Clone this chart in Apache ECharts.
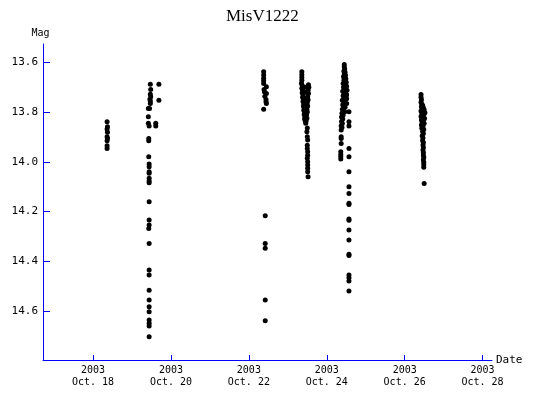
<!DOCTYPE html>
<html>
<head>
<meta charset="utf-8">
<script src="https://cdn.jsdelivr.net/npm/echarts@6/dist/echarts.min.js"></script>
<style>html,body{margin:0;padding:0;background:#fff}#c{width:540px;height:405px}</style>
</head>
<body>
<div id="c"></div>
<script>
// x = day of October 2003, y = magnitude
const night1 = [[18.36,13.839],[18.37,13.859],[18.36,13.868],[18.37,13.881],[18.36,13.899],[18.37,13.906],[18.36,13.915],[18.36,13.935],[18.36,13.946]];
const night2 = [[19.47,13.688],[19.69,13.688],[19.48,13.709],[19.47,13.728],[19.48,13.738],[19.46,13.748],[19.47,13.756],[19.47,13.765],[19.69,13.752],
  [19.42,13.785],[19.45,13.785],[19.42,13.819],[19.42,13.845],[19.44,13.856],[19.61,13.845],[19.61,13.856],[19.43,13.906],[19.43,13.915],
  [19.43,13.980],[19.44,14.009],[19.44,14.020],[19.44,14.040],[19.44,14.046],[19.44,14.066],[19.44,14.077],[19.44,14.084],[19.44,14.160],
  [19.44,14.234],[19.44,14.254],[19.43,14.268],[19.44,14.328],[19.44,14.435],[19.44,14.455],[19.44,14.516],[19.44,14.556],[19.44,14.583],
  [19.44,14.603],[19.44,14.636],[19.44,14.649],[19.44,14.660],[19.44,14.703]];
const night3 = [[22.38,13.638],[22.38,13.651],[22.38,13.664],[22.38,13.674],[22.38,13.685],[22.45,13.698],[22.39,13.709],[22.40,13.718],[22.45,13.725],
  [22.41,13.736],[22.44,13.749],[22.44,13.758],[22.45,13.765],[22.38,13.788],[22.42,14.217],[22.42,14.328],[22.42,14.348],[22.42,14.556],[22.42,14.639]];
const night4 = [[23.36,13.638],[23.36,13.650],[23.36,13.661],[23.36,13.672],[23.35,13.684],[23.37,13.693],[23.36,13.704],[23.38,13.712],[23.37,13.722],
  [23.39,13.730],[23.38,13.740],[23.40,13.748],[23.39,13.757],[23.41,13.765],[23.40,13.775],[23.42,13.783],[23.41,13.792],[23.43,13.800],
  [23.42,13.810],[23.44,13.818],[23.43,13.828],[23.45,13.836],[23.46,13.845],[23.53,13.690],[23.54,13.700],[23.52,13.712],[23.53,13.725],
  [23.51,13.738],[23.52,13.750],[23.50,13.762],[23.51,13.775],[23.49,13.788],[23.50,13.800],[23.48,13.812],[23.49,13.825],[23.47,13.836],
  [23.44,13.700],[23.45,13.720],[23.46,13.745],[23.45,13.770],[23.47,13.795],[23.46,13.820],[23.50,13.864],[23.49,13.879],[23.50,13.899],
  [23.51,13.912],[23.50,13.933],[23.50,13.946],[23.51,13.959],[23.51,13.973],[23.50,13.986],[23.51,14.000],[23.51,14.013],[23.51,14.026],
  [23.51,14.040],[23.52,14.060]];
const night5 = [[24.45,13.608],[24.45,13.618],[24.46,13.627],[24.44,13.636],[24.47,13.640],[24.45,13.648],[24.48,13.652],[24.43,13.658],[24.46,13.662],
  [24.49,13.666],[24.44,13.672],[24.47,13.676],[24.50,13.680],[24.42,13.685],[24.45,13.688],[24.48,13.692],[24.51,13.696],[24.43,13.700],
  [24.46,13.704],[24.49,13.708],[24.52,13.712],[24.41,13.716],[24.44,13.720],[24.47,13.724],[24.50,13.728],[24.42,13.734],[24.45,13.738],
  [24.48,13.742],[24.51,13.746],[24.40,13.752],[24.43,13.756],[24.46,13.760],[24.49,13.764],[24.41,13.770],[24.44,13.775],[24.47,13.780],
  [24.40,13.788],[24.43,13.793],[24.46,13.798],[24.39,13.805],[24.42,13.812],[24.38,13.820],[24.41,13.828],[24.38,13.838],[24.40,13.846],
  [24.37,13.855],[24.39,13.862],[24.37,13.872],[24.37,13.899],[24.37,13.906],[24.37,13.926],[24.36,13.959],[24.36,13.970],[24.36,13.980],
  [24.36,13.989],[24.51,13.731],[24.51,13.765],[24.57,13.799],[24.57,13.839],[24.57,13.856],[24.57,13.946],[24.57,13.980],[24.57,14.040],
  [24.57,14.100],[24.57,14.127],[24.57,14.167],[24.57,14.172],[24.57,14.230],[24.57,14.235],[24.57,14.274],[24.57,14.314],[24.57,14.372],
  [24.57,14.377],[24.57,14.455],[24.57,14.466],[24.57,14.479],[24.57,14.519]];
const night6 = [[26.42,13.729],[26.42,13.740],[26.43,13.750],[26.42,13.760],[26.44,13.768],[26.46,13.772],[26.43,13.778],[26.48,13.782],[26.45,13.787],
  [26.50,13.790],[26.42,13.795],[26.47,13.800],[26.52,13.803],[26.44,13.808],[26.49,13.812],[26.42,13.818],[26.46,13.822],[26.51,13.826],
  [26.43,13.832],[26.48,13.836],[26.45,13.842],[26.50,13.846],[26.43,13.852],[26.47,13.858],[26.44,13.865],[26.49,13.870],[26.46,13.878],
  [26.48,13.886],[26.45,13.895],[26.47,13.904],[26.46,13.914],[26.48,13.922],[26.47,13.932],[26.48,13.942],[26.47,13.952],[26.48,13.962],
  [26.48,13.972],[26.49,13.982],[26.48,13.992],[26.49,14.002],[26.49,14.012],[26.49,14.022],[26.50,14.087]];

const xTickDays = [18, 20, 22, 24, 26, 28];
const yTickMags = [13.6, 13.8, 14.0, 14.2, 14.4, 14.6];

const allPoints = [].concat(night1, night2, night3, night4, night5, night6);
const mono = 'DejaVu Sans Mono';
const blue = '#0000ff';

const chart = echarts.init(document.getElementById('c'));
chart.setOption({
  animation: false,
  title: {
    text: 'MisV1222', left: 221, top: 3,
    textStyle: { fontFamily: 'Liberation Serif', fontSize: 17, fontWeight: 'normal', color: '#000' }
  },
  grid: { left: 43, top: 44, right: 48, bottom: 45, containLabel: false },
  xAxis: {
    type: 'value', min: 16.715, max: 28.242,
    name: 'Date', nameLocation: 'end', nameGap: 4, nameMoveOverlap: false,
    nameTextStyle: { fontFamily: mono, fontSize: 11, color: '#000', verticalAlign: 'middle', align: 'left' },
    axisLine: { show: true, lineStyle: { color: blue, width: 1 } },
    axisTick: { show: true, inside: true, length: 5, lineStyle: { color: blue }, customValues: xTickDays },
    axisLabel: {
      customValues: xTickDays, margin: 4, fontFamily: mono, fontSize: 10, color: '#000', lineHeight: 12,
      formatter: v => '2003\nOct. ' + Math.round(v)
    },
    splitLine: { show: false }
  },
  yAxis: {
    type: 'value', inverse: true, min: 13.526, max: 14.797,
    name: 'Mag', nameLocation: 'start', nameGap: 6, nameMoveOverlap: false,
    nameTextStyle: { fontFamily: mono, fontSize: 10, color: '#000', align: 'center', padding: [0, 5, 0, 0] },
    axisLine: { show: true, lineStyle: { color: blue, width: 1 } },
    axisTick: { show: true, inside: true, length: 7, lineStyle: { color: blue }, customValues: yTickMags },
    axisLabel: {
      customValues: yTickMags, margin: 5, fontFamily: mono, fontSize: 11, color: '#000',
      formatter: v => v.toFixed(1)
    },
    splitLine: { show: false }
  },
  series: [{
    type: 'scatter', data: allPoints, symbol: 'circle', symbolSize: 5,
    itemStyle: { color: '#000', opacity: 1 }
  }]
});
</script>
</body>
</html>
